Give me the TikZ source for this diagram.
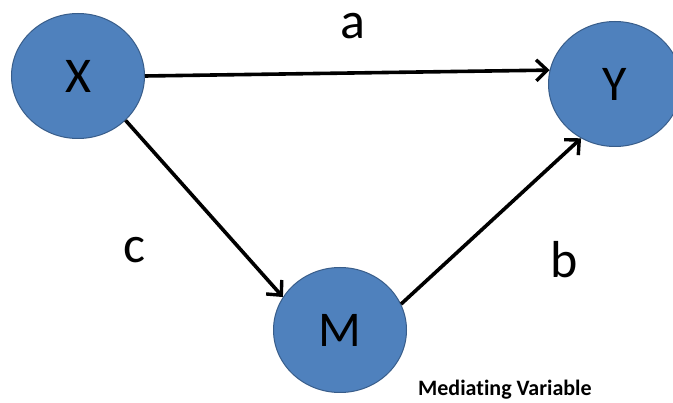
\documentclass[tikz,border=0pt]{standalone}
\usepackage{fontspec}
\setmainfont{Carlito}
\newfontfamily\mvfont[Ligatures=NoCommon]{Carlito}
\usetikzlibrary{shapes.geometric,arrows.meta}
\definecolor{nodefill}{HTML}{4F81BD}
\definecolor{nodeline}{HTML}{385D8A}
\tikzset{
  varnode/.style={ellipse, fill=nodefill, draw=nodeline, line width=1pt,
    minimum width=133pt, minimum height=125pt, inner sep=0pt,
    font=\fontsize{50}{50}\selectfont},
  conn/.style={line width=3.6pt, -{Straight Barb[length=11pt,width=21pt,line width=3.4pt]}},
  pathlabel/.style={inner sep=0pt, font=\fontsize{52}{52}\selectfont}
}
\begin{document}
\begin{tikzpicture}[x=1pt,y=-1pt]
  \useasboundingbox (0,0) rectangle (673,403);
  \fill[white] (0,0) rectangle (673,403);
  \begin{scope}
    \clip (0,0) rectangle (673,403);
    \node[varnode] (X) at (78,76) {X};
    \node[varnode] (Y) at (615,84) {Y};
    \node[varnode] (M) at (340,330) {M};
  \end{scope}
  \draw[conn] (X.east) -- (Y.168);
  \draw[conn] (X.-43) -- (M.150);
  \draw[conn] (M.23) -- (Y.-122);
  \node[pathlabel] (la) at (353,26) {a};
  \node[pathlabel] (lc) at (134,250) {c};
  \node[pathlabel] (lb) at (564,260) {b};
  \node[inner sep=0pt, anchor=base west, font=\mvfont\bfseries\fontsize{22}{22}\selectfont] (mv) at (418,396) {Mediating Variable};
\end{tikzpicture}
\end{document}
